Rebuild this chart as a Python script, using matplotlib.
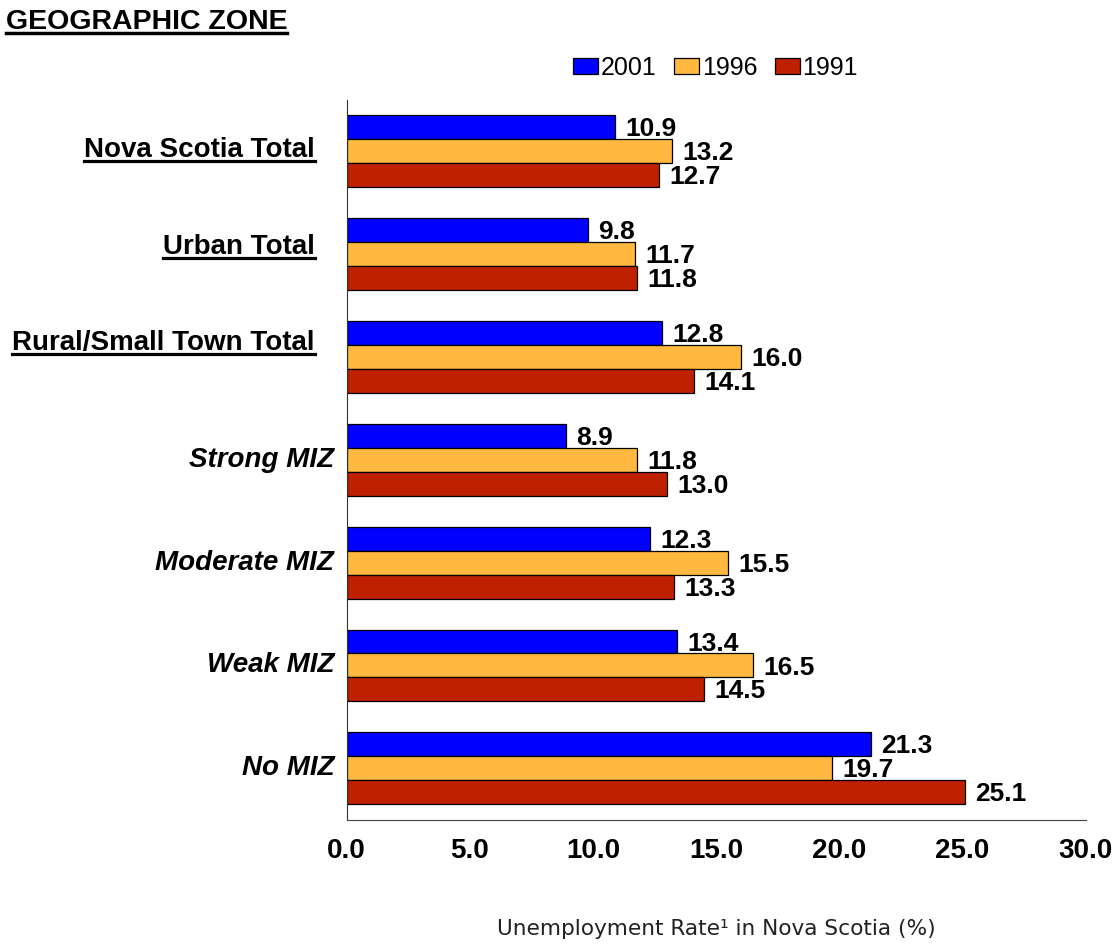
import numpy as np
import matplotlib.pyplot as plt
from matplotlib.lines import Line2D

categories = ['Nova Scotia Total', 'Urban Total', 'Rural/Small Town Total',
              'Strong MIZ', 'Moderate MIZ', 'Weak MIZ', 'No MIZ']
underlined = [True, True, True, False, False, False, False]
years = ['2001', '1996', '1991']
vals_2001 = [10.9, 9.8, 12.8, 8.9, 12.3, 13.4, 21.3]
vals_1996 = [13.2, 11.7, 16.0, 11.8, 15.5, 16.5, 19.7]
vals_1991 = [12.7, 11.8, 14.1, 13.0, 13.3, 14.5, 25.1]
xticks = [0, 5, 10, 15, 20, 25, 30]

colors = ['#0000FF', '#FFB940', '#BF2000']
series = [vals_2001, vals_1996, vals_1991]
# the underlined headings sit a little above their bar groups in the original
label_shift = [-0.01, -0.07, -0.135, 0, 0, 0, 0]

plt.rcParams['font.family'] = ['Liberation Sans', 'DejaVu Sans']

fig = plt.figure(figsize=(11.18, 9.52), dpi=100)
ax = fig.add_axes([0.310, 0.139, 0.661, 0.756])

y = np.arange(len(categories))
h = 0.233
for i, (vals, c, yr) in enumerate(zip(series, colors, years)):
    pos = y - h + i * h
    ax.barh(pos, vals, height=h, color=c, edgecolor='black', linewidth=0.9, label=yr)
    for p, v in zip(pos, vals):
        ax.text(v + 0.42, p + 0.02, f'{v:.1f}', va='center', ha='left',
                fontsize=19, fontweight='bold')

ax.set_ylim(6.5, -0.5)
ax.set_xlim(0, 30)
ax.set_xticks(xticks)
ax.set_xticklabels([f'{t:.1f}' for t in xticks], fontsize=20, fontweight='bold')
ax.tick_params(axis='x', length=0, pad=13)
ax.set_yticks([])
for s in ['top', 'right']:
    ax.spines[s].set_visible(False)
ax.spines['left'].set_color('#333333')
ax.spines['bottom'].set_color('#444444')

ax.set_xlabel('Unemployment Rate\u00b9 in Nova Scotia (%)', fontsize=15.6,
              family='DejaVu Sans', labelpad=40, color='#222222')

fig.canvas.draw()
renderer = fig.canvas.get_renderer()
inv = fig.transFigure.inverted()


def underline(t, lw):
    bb = t.get_window_extent(renderer)
    (x0, y0), (x1, _) = inv.transform([[bb.x0, bb.y0], [bb.x1, bb.y1]])
    fig.add_artist(Line2D([x0, x1], [y0 + 0.002, y0 + 0.002], color='black', lw=lw))


# category labels, some underlined
for cat, yy, ul, dy in zip(categories, y, underlined, label_shift):
    xpos = -1.3 if ul else -0.5
    t = ax.text(xpos, yy + dy, cat, ha='right', va='center', fontsize=20,
                fontweight='bold', fontstyle='normal' if ul else 'italic')
    if ul:
        underline(t, 2.3)

title = fig.text(0.005, 0.977, 'GEOGRAPHIC ZONE', ha='left', va='center',
                 fontsize=20.5, fontweight='bold')
underline(title, 2.5)

fig.legend(loc='center', bbox_to_anchor=(0.64, 0.929), ncol=3, frameon=False,
           fontsize=18, handlelength=1.0, handleheight=0.6, handletextpad=0.1,
           columnspacing=0.7, borderpad=0)

fig.savefig('out.png', dpi=100)
